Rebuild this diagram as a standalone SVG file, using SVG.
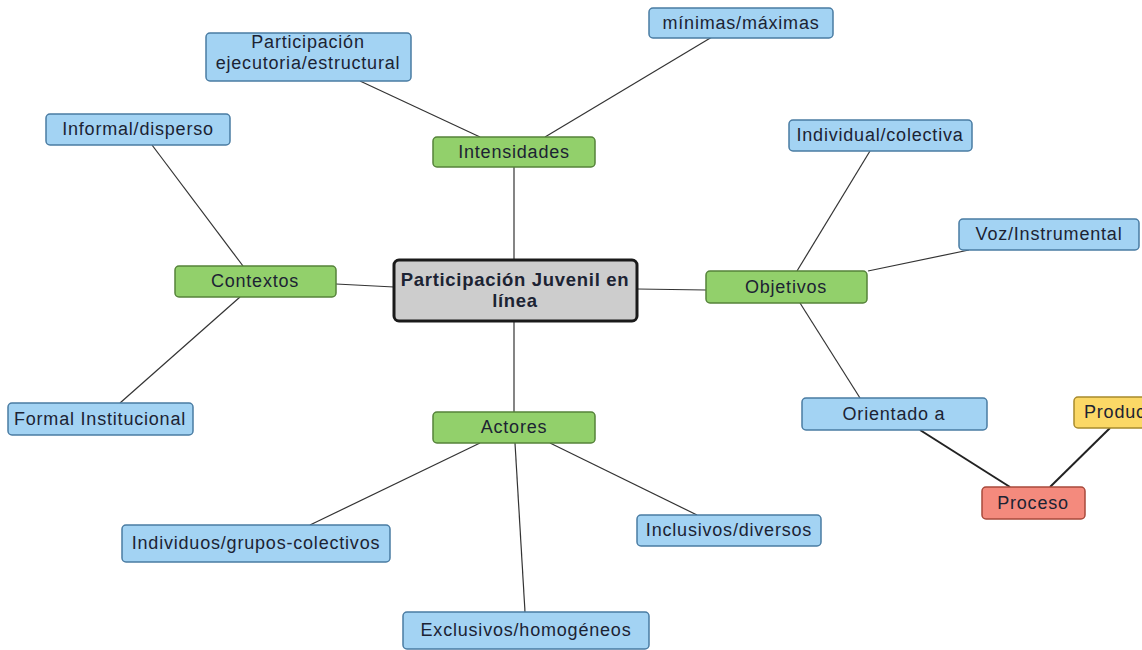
<svg xmlns="http://www.w3.org/2000/svg" width="1142" height="650" viewBox="0 0 1142 650">
<style>
.b rect{fill:#a3d3f3;stroke:#4a7ca3;stroke-width:1.5}
.g rect{fill:#92d06b;stroke:#55833a;stroke-width:1.5}
text{font-family:"Liberation Sans",Arial,sans-serif;font-size:18px;letter-spacing:0.8px;fill:#1c2333;text-anchor:middle}
.c line{stroke:#333;stroke-width:1.2}
</style>
<rect width="1142" height="650" fill="#fff"/>
<g class="c" id="connectors">
<line x1="514" y1="166" x2="514" y2="260"/>
<line x1="360" y1="81" x2="480" y2="137"/>
<line x1="712" y1="37" x2="545" y2="137"/>
<line x1="336" y1="284" x2="394" y2="287"/>
<line x1="152" y1="145" x2="243" y2="266"/>
<line x1="120" y1="403" x2="240" y2="297"/>
<line x1="514" y1="321" x2="514" y2="412"/>
<line x1="310" y1="525" x2="480" y2="443"/>
<line x1="515" y1="443" x2="525" y2="612"/>
<line x1="550" y1="443" x2="697" y2="515"/>
<line x1="637" y1="289" x2="706" y2="290"/>
<line x1="870" y1="151" x2="797" y2="271"/>
<line x1="969" y1="250" x2="868" y2="271"/>
<line x1="800" y1="303" x2="860" y2="398"/>
<line x1="920" y1="430" x2="1010" y2="487" style="stroke:#222;stroke-width:2"/>
<line x1="1110" y1="428" x2="1050" y2="487" style="stroke:#222;stroke-width:2"/>
</g>
<g id="central"><rect x="394" y="260" width="243" height="61" rx="5" fill="#cdcdcd" stroke="#1a1a1a" stroke-width="3"/><text x="515" y="286" font-weight="bold" style="font-size:18.5px;letter-spacing:0.7px">Participación Juvenil en</text><text x="515" y="307" font-weight="bold" style="font-size:18.5px;letter-spacing:0.7px">línea</text></g>
<g id="intensidades" class="g"><rect x="433" y="137" width="162" height="30" rx="4"/><text x="514" y="158">Intensidades</text></g>
<g id="participacion" class="b"><rect x="206" y="33" width="205" height="48" rx="4"/><text x="308" y="48">Participación</text><text x="308" y="69">ejecutoria/estructural</text></g>
<g id="minimas" class="b"><rect x="649" y="8" width="184" height="30" rx="4"/><text x="741" y="29">mínimas/máximas</text></g>
<g id="contextos" class="g"><rect x="175" y="266" width="161" height="31" rx="4"/><text x="255" y="287">Contextos</text></g>
<g id="informal" class="b"><rect x="46" y="114" width="184" height="31" rx="4"/><text x="138" y="135">Informal/disperso</text></g>
<g id="formal" class="b"><rect x="8" y="403" width="185" height="32" rx="4"/><text x="100" y="425">Formal Institucional</text></g>
<g id="actores" class="g"><rect x="433" y="412" width="162" height="31" rx="4"/><text x="514" y="433">Actores</text></g>
<g id="individuos" class="b"><rect x="122" y="525" width="268" height="37" rx="4"/><text x="256" y="549">Individuos/grupos-colectivos</text></g>
<g id="exclusivos" class="b"><rect x="403" y="612" width="246" height="37" rx="4"/><text x="526" y="636">Exclusivos/homogéneos</text></g>
<g id="inclusivos" class="b"><rect x="637" y="515" width="184" height="31" rx="4"/><text x="729" y="536">Inclusivos/diversos</text></g>
<g id="objetivos" class="g"><rect x="706" y="271" width="161" height="32" rx="4"/><text x="786" y="293">Objetivos</text></g>
<g id="individual" class="b"><rect x="789" y="120" width="183" height="31" rx="4"/><text x="880" y="141">Individual/colectiva</text></g>
<g id="voz" class="b"><rect x="959" y="219" width="180" height="31" rx="4"/><text x="1049" y="240">Voz/Instrumental</text></g>
<g id="orientado" class="b"><rect x="802" y="398" width="185" height="32" rx="4"/><text x="894" y="420">Orientado a</text></g>
<g id="proceso"><rect x="982" y="487" width="103" height="32" rx="4" fill="#f48a7d" stroke="#a8493b" stroke-width="1.5"/><text x="1033" y="509">Proceso</text></g>
<g id="producto"><rect x="1074" y="397" width="80" height="31" rx="4" fill="#fbd866" stroke="#a88a2c" stroke-width="1.5"/><text x="1084" y="418" style="text-anchor:start">Produc</text></g>
</svg>
